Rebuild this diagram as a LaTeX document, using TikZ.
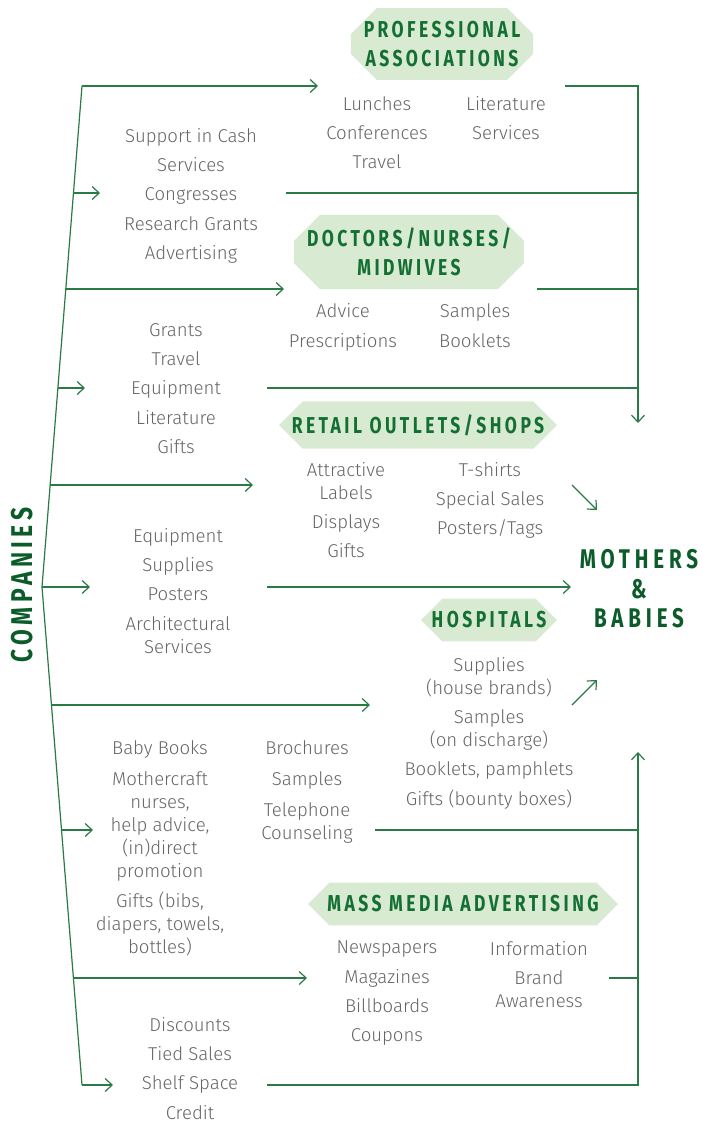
\documentclass[tikz,border=0pt]{standalone}
\usepackage{fontspec}
\usepackage{xcolor}
\usetikzlibrary{positioning,calc,shapes.misc,arrows.meta}
\newfontfamily\mbbody{Fira Sans Light}
\newfontfamily\mbhead{Fira Sans}[FakeStretch=0.76,LetterSpace=15]
\newfontfamily\mbtitle{Fira Sans}[FakeStretch=0.76,LetterSpace=18]
\definecolor{mbline}{HTML}{2A7A45}
\definecolor{mbdark}{HTML}{137032}
\definecolor{mbdeep}{HTML}{0C5C2A}
\definecolor{mbfill}{HTML}{D9EAD3}
\definecolor{mbgrey}{HTML}{666666}
\newcommand{\gapline}{\\[6.3pt]}
\tikzset{
  mb heading/.style={chamfered rectangle, chamfered rectangle xsep=13pt, chamfered rectangle ysep=13pt,
    fill=mbfill, text=mbdark, align=center, inner sep=0pt,
    font=\mbhead\bfseries\fontsize{23}{29}\selectfont},
  mb list/.style={font=\mbbody\fontsize{18.6}{23}\selectfont, text=mbgrey, align=center, inner sep=0pt, anchor=north},
  mb title/.style={font=\mbtitle\bfseries\fontsize{27}{29.5}\selectfont, text=mbdeep, align=center, inner sep=0pt},
  mb line/.style={draw=mbline, line width=1.2pt},
  mb arrow/.style={mb line, -{Straight Barb[length=7pt,width=13pt]}}
}
\begin{document}
\begin{tikzpicture}[x=1pt, y=-1pt]
    \useasboundingbox (0,0) rectangle (702,1122);

    % Recipients
    \node [mb heading, minimum width=181pt, minimum height=70pt] (pa) at (442,44) {PROFESSIONAL\\ASSOCIATIONS};
    \node [mb heading, minimum width=222pt, minimum height=68pt] (dn) at (409,252) {DOCTORS/NURSES/\\MIDWIVES};
    \node [mb heading, minimum width=278pt, minimum height=39pt] (ro) at (418,425) {RETAIL OUTLETS/SHOPS};
    \node [mb heading, minimum width=136pt, minimum height=39pt] (ho) at (489,620) {HOSPITALS};
    \node [mb heading, minimum width=310pt, minimum height=38pt] (mm) at (463,904) {MASS MEDIA ADVERTISING};
    \node [mb title] (mb) at (639,589) {MOTHERS\\\&\\BABIES};
    \node [mb title, font=\mbhead\bfseries\fontsize{30}{30}\selectfont, rotate=90] (co) at (22,585) {COMPANIES};

    % What each one gets
    \node [mb list] (pa1) at (377,96) {Lunches\gapline Conferences\gapline Travel};
    \node [mb list] (pa2) at (506,96) {Literature\gapline Services};
    \node [mb list] (sup) at (191,128) {Support in Cash\gapline Services\gapline Congresses\gapline Research Grants\gapline Advertising};
    \node [mb list] (dn1) at (343,303) {Advice\\[7pt]Prescriptions};
    \node [mb list] (dn2) at (475,303) {Samples\\[7pt]Booklets};
    \node [mb list] (gr) at (176,323) {Grants\gapline Travel\gapline Equipment\gapline Literature\gapline Gifts};
    \node [mb list] (ro1) at (346,462) {Attractive\\Labels\gapline Displays\gapline Gifts};
    \node [mb list] (ro2) at (490,462) {T-shirts\gapline Special Sales\gapline Posters/Tags};
    \node [mb list] (eq) at (178,528) {Equipment\gapline Supplies\gapline Posters\gapline Architectural\\Services};
    \node [mb list] (ho1) at (489,657) {Supplies\\(house brands)\gapline Samples\\(on discharge)\gapline Booklets, pamphlets\gapline Gifts (bounty boxes)};
    \node [mb list] (bb) at (160,740) {Baby Books\\[8pt]Mothercraft\\nurses,\\help advice,\\(in)direct\\promotion\\[7pt]Gifts (bibs,\\diapers, towels,\\bottles)};
    \node [mb list] (br) at (307,740) {Brochures\\[8pt]Samples\\[8pt]Telephone\\Counseling};
    \node [mb list] (mm1) at (387,941) {Newspapers\gapline Magazines\gapline Billboards\gapline Coupons};
    \node [mb list] (mm2) at (539,941) {Information\gapline Brand\\Awareness};
    \node [mb list] (di) at (190,1017) {Discounts\gapline Tied Sales\gapline Shelf Space\gapline Credit};

    % Spine
    \coordinate (top) at (82,86);
    \coordinate (tip) at (42,587);
    \coordinate (bot) at (82,1085);
    \draw [mb line] (top) -- (tip) -- (bot);

    % Branches off the spine
    \foreach \n/\xs/\y/\xe in {1/82/86/318, 2/73.5/193/100, 3/65.8/289/284, 4/57.9/388/85,
                              5/50.1/485/253, 6/42/587/90, 7/51.5/705/370, 8/61.5/830/93,
                              9/73.4/978/307, 10/82/1085/113} {
        \coordinate (s\n) at (\xs,\y);
        \coordinate (e\n) at (\xe,\y);
        \draw [mb arrow] (s\n) -- (e\n);
    }

    % Collectors on the right
    \coordinate (pa out) at (565,86);
    \coordinate (sup out) at (286,193);
    \coordinate (dn out) at (537,289);
    \coordinate (gr out) at (267,388);
    \coordinate (k1) at (638,86);
    \coordinate (k2) at (638,423);
    \draw [mb arrow] (pa out) -- (k1) -- (k2);
    \draw [mb line] (sup out) -- (sup out -| k1);
    \draw [mb line] (dn out) -- (dn out -| k1);
    \draw [mb line] (gr out) -- (gr out -| k1);

    \coordinate (br out) at (375,830);
    \coordinate (mm out) at (609,978);
    \coordinate (di out) at (267,1085);
    \coordinate (k3) at (638,1085);
    \coordinate (k4) at (638,752);
    \draw [mb arrow] (di out) -- (k3) -- (k4);
    \draw [mb line] (br out) -- (br out -| k3);
    \draw [mb line] (mm out) -- (mm out -| k3);

    \coordinate (eq out) at (267,587);
    \coordinate (mb in) at (571,587);
    \draw [mb arrow] (eq out) -- (mb in);

    % Slanted arrows into the centre
    \coordinate (d1) at (572,485);
    \coordinate (d2) at (597,510);
    \coordinate (d3) at (572,705);
    \coordinate (d4) at (597,680);
    \draw [mb arrow] (d1) -- (d2);
    \draw [mb arrow] (d3) -- (d4);
\end{tikzpicture}
\end{document}
